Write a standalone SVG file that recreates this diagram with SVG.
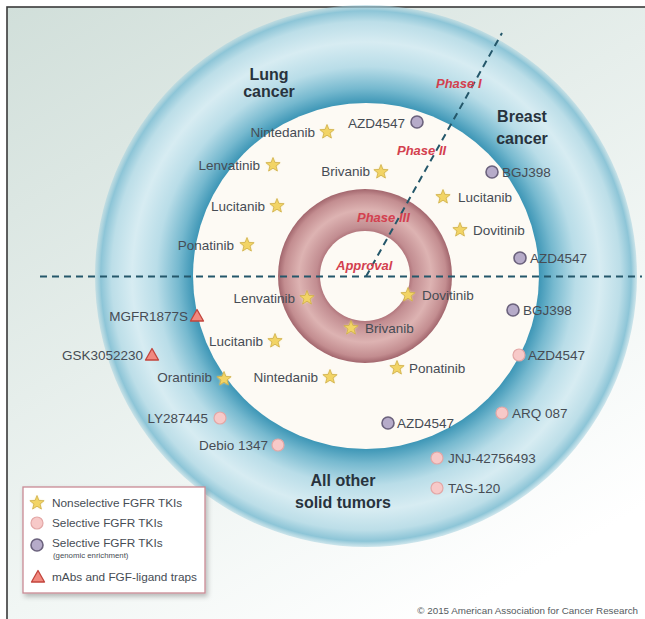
<svg xmlns="http://www.w3.org/2000/svg" width="645" height="619" viewBox="0 0 645 619">
<defs>
<style>
.lbl{font-family:"Liberation Sans",Arial,sans-serif;font-size:13.5px;fill:#464c54}
.end{text-anchor:end}
.hd{font-family:"Liberation Sans",Arial,sans-serif;font-size:16px;font-weight:bold;fill:#28333d;text-anchor:middle}
.ph{font-family:"Liberation Sans",Arial,sans-serif;font-size:13px;font-weight:bold;font-style:italic;fill:#d3404f}
.lg{font-family:"Liberation Sans",Arial,sans-serif;font-size:11.8px;fill:#464c54}
.dash{fill:none;stroke:#24576a;stroke-width:2;stroke-dasharray:7 5}
</style>
<linearGradient id="bg" x1="0" y1="0" x2="0.6" y2="1">
<stop offset="0" stop-color="#d1dfda"/>
<stop offset="0.7" stop-color="#f1f6f4"/>
<stop offset="1" stop-color="#ffffff"/>
</linearGradient>
<radialGradient id="blue" gradientUnits="userSpaceOnUse" cx="366" cy="276" r="272">
<stop offset="0.6" stop-color="#3a93b3"/>
<stop offset="0.635" stop-color="#3d96b6"/>
<stop offset="0.69" stop-color="#76b9cf"/>
<stop offset="0.77" stop-color="#b9dde8"/>
<stop offset="0.86" stop-color="#d7ecf2"/>
<stop offset="0.935" stop-color="#bcdee8"/>
<stop offset="0.975" stop-color="#8dc5d7"/>
<stop offset="1" stop-color="#a7d2df" stop-opacity="0.4"/>
</radialGradient>
<radialGradient id="red" gradientUnits="userSpaceOnUse" cx="365" cy="276" r="87">
<stop offset="0.5" stop-color="#ac6f76"/>
<stop offset="0.56" stop-color="#c28d91"/>
<stop offset="0.76" stop-color="#ddb3b2"/>
<stop offset="0.93" stop-color="#c38d90"/>
<stop offset="1" stop-color="#a2666d"/>
</radialGradient>
<filter id="glow" x="-50%" y="-50%" width="200%" height="200%">
<feGaussianBlur stdDeviation="1.2"/>
</filter>
<filter id="shadow" x="-10%" y="-10%" width="130%" height="130%">
<feDropShadow dx="2" dy="3" stdDeviation="2.5" flood-color="#000" flood-opacity="0.25"/>
</filter>
<g id="star">
<polygon points="0,-7.5 1.88,-2.59 7.13,-2.32 3.04,0.99 4.41,6.07 0,3.2 -4.41,6.07 -3.04,0.99 -7.13,-2.32 -1.88,-2.59" fill="#f3e4a6" filter="url(#glow)"/>
<polygon points="0,-7.5 1.88,-2.59 7.13,-2.32 3.04,0.99 4.41,6.07 0,3.2 -4.41,6.07 -3.04,0.99 -7.13,-2.32 -1.88,-2.59" fill="#f2d465" stroke="#cfae48" stroke-width="0.8"/>
</g>
<circle id="pink" r="6" fill="#f7c9c8" stroke="#e3a7a6" stroke-width="1.2"/>
<circle id="purple" r="6" fill="#b6abc9" stroke="#6b627d" stroke-width="1.6"/>
<polygon id="tri" points="0,-6.5 6.5,5 -6.5,5" fill="#f1897f" stroke="#c2443c" stroke-width="1.3" stroke-linejoin="round"/>
</defs>

<rect x="0" y="0" width="645" height="619" fill="#ffffff"/>
<rect id="frame" x="7" y="7" width="660" height="640" fill="url(#bg)" stroke="#3a3a3a" stroke-width="1.6"/>

<g id="rings">
<circle id="outer-ring" cx="366" cy="276" r="271" fill="url(#blue)"/>
<circle id="white-disk" cx="366" cy="276" r="173" fill="#fdfaf4"/>
<circle id="red-ring" cx="365" cy="276" r="87" fill="url(#red)"/>
<circle id="center-disk" cx="365" cy="276" r="45" fill="#fdfaf4"/>
</g>

<g id="connectors">
<line class="dash" x1="40" y1="276.5" x2="642" y2="276.5"/>
<line class="dash" x1="366" y1="276.5" x2="502" y2="33"/>
</g>

<g id="headings">
<text class="hd" x="269" y="80">Lung</text>
<text class="hd" x="269" y="97">cancer</text>
<text class="hd" x="522" y="122">Breast</text>
<text class="hd" x="522" y="144">cancer</text>
<text class="hd" x="343" y="486">All other</text>
<text class="hd" x="343" y="508">solid tumors</text>
</g>

<g id="phases">
<text class="ph" x="436" y="88">Phase I</text>
<text class="ph" x="397" y="155">Phase II</text>
<text class="ph" x="357" y="222">Phase III</text>
<text class="ph" x="336" y="270">Approval</text>
</g>

<g id="n1"><text class="lbl end" x="315" y="137">Nintedanib</text><use href="#star" x="327" y="132"/></g>
<g id="n2"><text class="lbl end" x="405" y="128">AZD4547</text><use href="#purple" x="417" y="122"/></g>
<g id="n3"><text class="lbl end" x="260" y="170">Lenvatinib</text><use href="#star" x="273" y="165"/></g>
<g id="n4"><text class="lbl end" x="370" y="176">Brivanib</text><use href="#star" x="381" y="172"/></g>
<g id="n5"><text class="lbl end" x="265" y="211">Lucitanib</text><use href="#star" x="277" y="206"/></g>
<g id="n6"><text class="lbl end" x="234" y="250">Ponatinib</text><use href="#star" x="247" y="245"/></g>

<g id="n7"><use href="#purple" x="492" y="172"/><text class="lbl" x="502" y="177">BGJ398</text></g>
<g id="n8"><use href="#star" x="443" y="197"/><text class="lbl" x="458" y="202">Lucitanib</text></g>
<g id="n9"><use href="#star" x="460" y="230"/><text class="lbl" x="473" y="235">Dovitinib</text></g>
<g id="n10"><use href="#purple" x="520" y="258"/><text class="lbl" x="530" y="263">AZD4547</text></g>

<g id="n11"><use href="#star" x="408" y="295"/><text class="lbl" x="422" y="300">Dovitinib</text></g>
<g id="n12"><use href="#star" x="351" y="328"/><text class="lbl" x="365" y="333">Brivanib</text></g>
<g id="n13"><use href="#purple" x="513" y="310"/><text class="lbl" x="523" y="315">BGJ398</text></g>
<g id="n14"><use href="#pink" x="519" y="355"/><text class="lbl" x="528" y="360">AZD4547</text></g>
<g id="n15"><use href="#star" x="397" y="368"/><text class="lbl" x="409" y="373">Ponatinib</text></g>
<g id="n16"><use href="#pink" x="502" y="413"/><text class="lbl" x="512" y="418">ARQ 087</text></g>
<g id="n17"><use href="#purple" x="388" y="423"/><text class="lbl" x="397" y="428">AZD4547</text></g>
<g id="n18"><use href="#pink" x="437" y="458"/><text class="lbl" x="448" y="463">JNJ-42756493</text></g>
<g id="n19"><use href="#pink" x="437" y="488"/><text class="lbl" x="448" y="493">TAS-120</text></g>

<g id="n20"><text class="lbl end" x="295" y="303">Lenvatinib</text><use href="#star" x="307" y="298"/></g>
<g id="n21"><text class="lbl end" x="188" y="321">MGFR1877S</text><use href="#tri" x="197" y="316"/></g>
<g id="n22"><text class="lbl end" x="263" y="346">Lucitanib</text><use href="#star" x="275" y="341"/></g>
<g id="n23"><text class="lbl end" x="143" y="360">GSK3052230</text><use href="#tri" x="152" y="355"/></g>
<g id="n24"><text class="lbl end" x="212" y="382">Orantinib</text><use href="#star" x="224" y="379"/></g>
<g id="n25"><text class="lbl end" x="318" y="382">Nintedanib</text><use href="#star" x="330" y="377"/></g>
<g id="n26"><text class="lbl end" x="208" y="423">LY287445</text><use href="#pink" x="220" y="418"/></g>
<g id="n27"><text class="lbl end" x="268" y="450">Debio 1347</text><use href="#pink" x="278" y="445"/></g>

<g id="legend">
<rect x="23" y="487" width="182" height="106" fill="#ffffff" stroke="#c98a94" stroke-width="1.3" filter="url(#shadow)"/>
<use href="#star" x="37" y="503"/>
<text class="lg" x="52" y="507">Nonselective FGFR TKIs</text>
<use href="#pink" x="37" y="523"/>
<text class="lg" x="52" y="527">Selective FGFR TKIs</text>
<use href="#purple" x="37" y="545"/>
<text class="lg" x="52" y="547">Selective FGFR TKIs</text>
<text class="lg" x="53" y="558" style="font-size:7.8px">(genomic enrichment)</text>
<use href="#tri" x="38" y="577"/>
<text class="lg" x="52" y="581">mAbs and FGF-ligand traps</text>
</g>

<text x="638" y="614" text-anchor="end" style="font-family:'Liberation Sans',Arial,sans-serif;font-size:9.8px;fill:#555b60">© 2015 American Association for Cancer Research</text>
</svg>
